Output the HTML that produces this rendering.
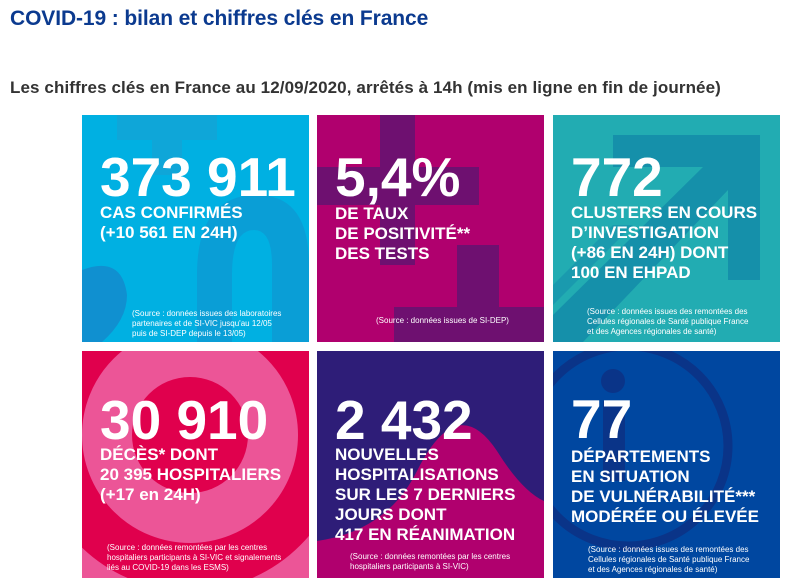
<!DOCTYPE html>
<html><head><meta charset="utf-8"><style>
html,body{margin:0;width:804px;height:587px;overflow:hidden}
body{background:#fff;position:relative;font-family:"Liberation Sans",sans-serif}
.t{position:absolute;left:10px;top:7px;font-size:21px;font-weight:bold;color:#0b3a8f;letter-spacing:-0.1px;white-space:nowrap}
.s{position:absolute;left:10px;top:78px;font-size:17px;font-weight:bold;color:#333;letter-spacing:0.1px;white-space:nowrap}
.tile{position:absolute;width:227px;height:227px;overflow:hidden;color:#fff}
.tile svg{position:absolute;left:0;top:0}
.n{position:absolute;left:18px;font-size:55px;line-height:55px;font-weight:bold;white-space:nowrap;letter-spacing:0px}
.l{position:absolute;left:18px;font-size:17px;line-height:20px;font-weight:bold;white-space:nowrap}
.src{position:absolute;font-size:8px;line-height:10px;white-space:nowrap}
</style></head><body>
<div class="t">COVID-19 : bilan et chiffres clés en France</div>
<div class="s">Les chiffres clés en France au 12/09/2020, arrêtés à 14h (mis en ligne en fin de journée)</div>

<div class="tile" style="left:82px;top:115px;background:#00b0e2">
<svg width="227" height="227"><rect x="35" y="0" width="100" height="25" fill="#0fa6d8"/><rect x="70" y="0" width="30" height="60" fill="#0fa6d8"/>
<path d="M115 227 L115 160 Q115 80 175 80 Q227 80 227 150 L227 227 L190 227 L190 150 Q190 115 172 115 Q150 115 150 160 L150 227Z" fill="#0a9ed6"/>
<path d="M0 155 Q40 140 45 180 Q45 205 20 227 L0 227Z" fill="#1090d0"/></svg>
<div class="n" style="top:35px">373 911</div>
<div class="l" style="top:88px">CAS CONFIRMÉS<br>(+10 561 EN 24H)</div>
<div class="src" style="left:50px;top:194px">(Source : données issues des laboratoires<br>partenaires et de SI-VIC jusqu'au 12/05<br>puis de SI-DEP depuis le 13/05)</div>
</div>

<div class="tile" style="left:317px;top:115px;background:#b0006e">
<svg width="227" height="227"><rect x="63" y="0" width="35" height="150" fill="#6e1070"/><rect x="0" y="52" width="162" height="38" fill="#6e1070"/>
<rect x="140" y="130" width="42" height="97" fill="#6e1070"/><rect x="77" y="192" width="150" height="35" fill="#6e1070"/></svg>
<div class="n" style="top:35px">5,4%</div>
<div class="l" style="top:89px">DE TAUX<br>DE POSITIVITÉ**<br>DES TESTS</div>
<div class="src" style="left:59px;top:201px">(Source : données issues de SI-DEP)</div>
</div>

<div class="tile" style="left:553px;top:115px;background:#22acb2">
<svg width="227" height="227"><path d="M60 20 L207 20 L207 165 L175 165 L175 75 L30 227 L0 227 L0 200 L150 52 L60 52Z" fill="#1590aa"/>
<path d="M0 170 L60 110 L80 110 L0 190Z" fill="#1a9aae"/></svg>
<div class="n" style="top:35px">772</div>
<div class="l" style="top:88px">CLUSTERS EN COURS<br>D’INVESTIGATION<br>(+86 EN 24H) DONT<br>100 EN EHPAD</div>
<div class="src" style="left:34px;top:192px">(Source : données issues des remontées des<br>Cellules régionales de Santé publique France<br>et des Agences régionales de santé)</div>
</div>

<div class="tile" style="left:82px;top:351px;background:#ec5597">
<svg width="227" height="227"><circle cx="108" cy="84" r="132" fill="none" stroke="#e0004d" stroke-width="48"/>
<circle cx="108" cy="84" r="58" fill="#e0004d"/></svg>
<div class="n" style="top:42px">30 910</div>
<div class="l" style="top:94px">DÉCÈS* DONT<br>20 395 HOSPITALIERS<br>(+17 en 24H)</div>
<div class="src" style="left:25px;top:192px">(Source : données remontées par les centres<br>hospitaliers participants à SI-VIC et signalements<br>liés au COVID-19 dans les ESMS)</div>
</div>

<div class="tile" style="left:317px;top:351px;background:#2e1d78">
<svg width="227" height="227"><path d="M0 190 Q70 180 100 120 Q140 40 180 100 Q205 140 227 150 L227 227 L0 227Z" fill="#b0006e"/></svg>
<div class="n" style="top:42px">2 432</div>
<div class="l" style="top:94px">NOUVELLES<br>HOSPITALISATIONS<br>SUR LES 7 DERNIERS<br>JOURS DONT<br>417 EN RÉANIMATION</div>
<div class="src" style="left:33px;top:201px">(Source : données remontées par les centres<br>hospitaliers participants à SI-VIC)</div>
</div>

<div class="tile" style="left:553px;top:351px;background:#0047a0">
<svg width="227" height="227"><circle cx="75" cy="95" r="100" fill="none" stroke="#0a3488" stroke-width="9"/>
<circle cx="60" cy="30" r="12" fill="#0a3488"/><rect x="50" y="50" width="22" height="80" fill="#0a3488"/></svg>
<div class="n" style="top:41px">77</div>
<div class="l" style="top:96px">DÉPARTEMENTS<br>EN SITUATION<br>DE VULNÉRABILITÉ***<br>MODÉRÉE OU ÉLEVÉE</div>
<div class="src" style="left:35px;top:194px">(Source : données issues des remontées des<br>Cellules régionales de Santé publique France<br>et des Agences régionales de santé)</div>
</div>
</body></html>
